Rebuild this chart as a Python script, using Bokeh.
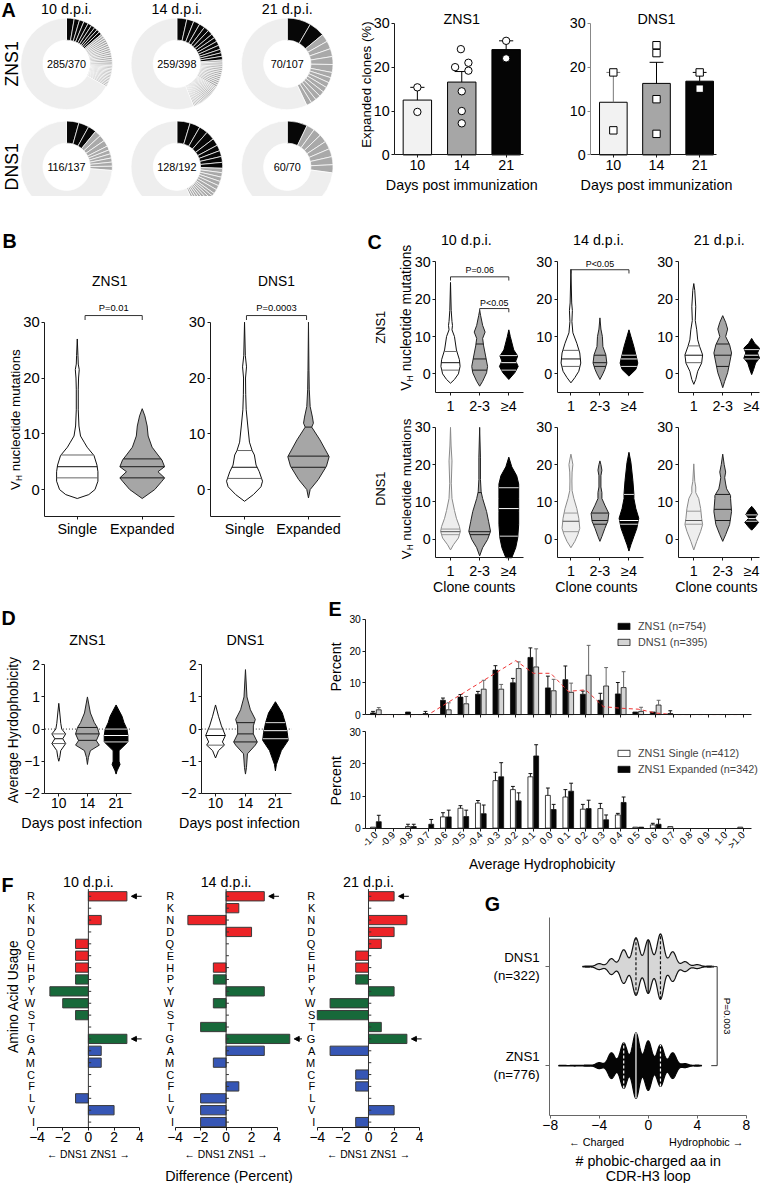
import math
import numpy as np
from bokeh.plotting import figure
from bokeh.models import Range1d, Label, Arrow, NormalHead, FixedTicker, Legend, LegendItem, LinearAxis
from bokeh.layouts import row, column
from bokeh.embed import file_html
from bokeh.resources import INLINE

FONT = "Liberation Sans"

# ============================ DATA ============================
# ---- A: clone composition (cells per clone): black >=4, grey 2-3, light = singletons
dpi_titles = ["10 d.p.i.", "14 d.p.i.", "21 d.p.i."]
donut_groups = ["ZNS1", "DNS1"]
zns1_ratio = ["285/370", "259/398", "70/107"]
dns1_ratio = ["116/137", "128/192", "60/70"]
zns1_10_big = [10, 7, 6, 6, 5, 5, 4, 4, 4]
zns1_10_mid = [3, 3, 3, 3, 3, 3, 3, 3, 3, 3, 3, 3, 3, 3, 2, 2, 2, 2, 2, 2, 2, 2, 2, 2, 2, 2, 2, 2, 2]
zns1_10_single = 247
zns1_14_big = [14, 10, 9, 8, 7, 7, 6, 6, 6, 6, 5, 5, 5]
zns1_14_mid = [3, 3, 3, 3, 3, 3, 3, 3, 3, 3, 3, 3, 3, 2, 2, 2, 2, 2, 2, 2, 2, 2, 2, 2, 2, 2, 2, 2, 2, 2, 2, 2, 2, 2]
zns1_14_single = 223
zns1_21_big = [9, 6]
zns1_21_mid = [3, 3, 3, 3, 3, 2, 2, 2, 2, 2, 2, 2, 2]
zns1_21_single = 61
dns1_10_big = [6, 5, 4]
dns1_10_mid = [3, 3, 3, 2, 2, 2, 2, 2, 2]
dns1_10_single = 101
dns1_14_big = [9, 7, 6, 6, 5, 4, 4, 4, 4]
dns1_14_mid = [3, 3, 3, 3, 3, 3, 2, 2, 2, 2, 2, 2, 2, 2]
dns1_14_single = 109
dns1_21_big = [5]
dns1_21_mid = [2, 2, 2, 2, 2, 2, 2]
dns1_21_single = 51

# ---- A: expanded clones (%) per mouse
days_imm = ["10", "14", "21"]
zns1_exp_mean = [12.5, 16.6, 24.0]
zns1_exp_sem_top = [15.4, 19.0, 26.0]
zns1_mice = [[9.8, 15.4], [24.1, 21.0, 20.0, 19.2, 14.5, 10.0, 7.2], [26.0, 22.0]]
dns1_exp_mean = [12.0, 16.3, 16.8]
dns1_exp_sem_top = [18.8, 21.1, 18.8]
dns1_mice = [[18.8, 5.6], [25.0, 23.2, 12.7, 4.8], [18.8, 15.1]]

# ---- B: VH mutations violins, (value, density) profiles + quartiles
b_cats = ["Single", "Expanded"]
b_zns1_single = [(-1.6, 0), (-0.9, 11.7), (0, 18), (1.5, 21), (3.2, 21), (4.4, 20), (6.1, 17), (7.6, 10), (8.5, 7),
                 (9.6, 3.3), (11.4, 1.7), (14.3, 1), (18, 1), (20, 1.3), (21.5, 2), (22.5, 1), (24, 0.7), (27, 0)]
b_zns1_single_q = [2.1, 4.1, 6.2]
b_zns1_expanded = [(-1.6, 0), (0, 12.7), (1.5, 20), (2.1, 22.7), (3.2, 16), (4.1, 22.7), (5.3, 20), (6.2, 16),
                   (7.6, 10), (9.6, 6), (11.4, 5), (13.2, 2.7), (14.5, 0)]
b_zns1_expanded_q = [2.1, 4.1, 5.5]
b_dns1_single = [(-2.1, 0), (-0.9, 9), (0.5, 16.7), (1.5, 18.3), (3.2, 15), (4.4, 11.7), (6.2, 10), (7, 7.7),
                 (8.5, 5), (11.4, 3.3), (14.3, 1.7), (17, 1.2), (20, 1), (22, 2), (24, 0.8), (30, 0)]
b_dns1_single_q = [2.0, 4.0, 7.0]
b_dns1_expanded = [(-1.5, 0), (0, 1.7), (1.8, 10), (4.2, 18.3), (5.9, 21), (8.9, 11.7), (11.2, 3.3), (11.9, 5),
                   (13, 4), (14.9, 1.7), (18, 0.8), (21.4, 0.5), (30, 0)]
b_dns1_expanded_q = [4.0, 6.0, 11.2]

# ---- C: VH mutations by clone count
c_cats = ["1", "2-3", "\u22654"]
c_zns1_10 = [([(-2.5, 0), (-1.5, 4), (0, 8), (2, 9.7), (3.8, 9), (6.4, 6), (10, 4), (11.8, 1.5), (13, 2), (14, 1.5), (17, 0.7), (24.5, 0)], [1, 3, 6]),
             ([(-3.3, 0), (-2, 3), (0.3, 7), (2, 8), (4.8, 6), (7.5, 4), (9.5, 3), (11.2, 5.5), (13, 3), (15.6, 1), (17, 0)], [1, 4, 8]),
             ([(-1.5, 0), (0.3, 6), (2, 9.5), (3.4, 7), (4.8, 9), (6.4, 5), (10, 1.5), (11.8, 0)], [1, 3, 4.9])]
c_zns1_14 = [([(-2.4, 0), (-1, 4), (0.7, 8), (2.9, 10), (5.6, 9), (8.2, 6), (11, 2), (14, 1), (17, 1.5), (19, 0.8), (28, 0)], [2, 4, 6.3]),
             ([(-1.5, 0), (0, 3), (1.2, 5), (2.9, 7), (5.1, 6), (7.3, 3), (10, 2.5), (12, 1), (15, 0)], [2, 3, 5]),
             ([(-0.6, 0), (1.2, 7), (2.9, 9), (5.1, 7), (7.3, 5), (10, 2), (11.8, 0)], [2, 4, 5])]
c_zns1_21 = [([(-2.8, 0), (-1.5, 2), (0.7, 4), (2.9, 8), (5.1, 9), (7.3, 6), (9.1, 4), (11.8, 3), (14.3, 1.5), (18, 2), (22.4, 1), (24.2, 0)], [3, 5, 7.5]),
             ([(-3.7, 0), (-2, 2), (0.3, 5), (2.9, 7), (5.6, 9), (7.8, 7), (10, 3), (12, 5), (13.8, 3), (15.6, 0)], [2, 5, 8]),
             ([(-0.2, 0), (1.2, 2), (2.9, 4), (4.2, 8), (5.6, 6), (6.9, 8), (8.2, 3), (9.5, 0)], [4, 5, 6.5])]
c_dns1_10 = [([(-2.9, 0), (-1.5, 3), (0.3, 8), (2.1, 10), (3.4, 9), (5.6, 6), (7.7, 4), (10.9, 1.5), (15, 0.8), (21, 1.5), (25, 0.6), (30, 0)], [1.2, 2.0, 2.7]),
             ([(-4.5, 0), (-2.3, 3), (-0.1, 8), (2.1, 11), (4.8, 9), (7.4, 7), (10.9, 3), (12.7, 1.5), (16, 0.8), (22, 0.8), (30, 0)], [1.2, 2.0, 12.5]),
             ([(-5, 3), (-2.3, 7), (0.3, 9), (3.9, 10), (7.4, 10), (10.9, 10), (14.8, 10), (17, 8), (19.4, 3), (22, 0)], [0.8, 8.2, 13.8])]
c_dns1_14 = [([(-2.3, 0), (-0.6, 4), (1.2, 7), (2.9, 9), (5.6, 8), (8.2, 6), (10.9, 3), (13, 1.2), (15.6, 1), (18, 1.2), (20, 2), (21.5, 1), (22.8, 0)], [2, 4.8, 7]),
             ([(-0.6, 0), (0.7, 2), (2.9, 5), (4.8, 8), (6.9, 9), (9.1, 5), (10.9, 2), (12.5, 2), (14, 1), (17, 1), (18.5, 2), (20, 1), (21, 0)], [4, 5, 7]),
             ([(-3.2, 0), (-1.5, 2), (0.7, 5), (2.9, 8), (5.6, 10), (8.2, 7), (10.9, 5), (12.2, 5), (15.7, 4), (20.6, 2), (23.3, 0)], [4, 5, 12])]
c_dns1_21 = [([(-2.9, 0), (-0.6, 3), (2.1, 7), (3.9, 9), (5.6, 8), (8.2, 7), (10.9, 5), (12.5, 2), (14, 2), (15.5, 1), (20.2, 0)], [4, 5, 7.5]),
             ([(-0.6, 0), (1.2, 3), (3.9, 7), (7.4, 9), (10.9, 8), (11.7, 8), (13.5, 4), (14.8, 3), (16.5, 2), (18, 3), (20, 1.5), (22.8, 0)], [5, 8, 12]),
             ([(2.4, 0), (3.2, 3), (4.5, 7), (5.6, 3), (6.6, 6), (7.9, 3), (8.8, 0)], [4.8, 5.5, 6.5])]

# ---- D: average hydrophobicity violins
d_days = ["10", "14", "21"]
d_zns1 = [([(-1.0, 0), (-0.88, 1), (-0.67, 2), (-0.45, 7), (-0.3, 4), (-0.15, 7), (0, 3), (0.18, 2), (0.5, 1), (0.8, 0)], [-0.45, -0.3, -0.15]),
          ([(-1.1, 0), (-0.88, 1), (-0.67, 3), (-0.5, 12), (-0.36, 9), (-0.15, 12), (0.05, 10), (0.2, 7), (0.5, 3), (1.0, 0)], [-0.35, -0.15, 0.05]),
          ([(-1.4, 0), (-1.3, 1), (-1.1, 4), (-1.0, 3), (-0.67, 3), (-0.4, 12), (-0.2, 12), (0, 11), (0.2, 8), (0.4, 6), (0.75, 0)], [-0.4, -0.2, 0.0])]
d_dns1 = [([(-0.9, 0), (-0.67, 3), (-0.5, 9), (-0.4, 7), (-0.2, 10), (0.1, 6), (0.4, 3), (0.75, 0)], [-0.5, -0.2, 0.0]),
          ([(-1.4, 0), (-1.2, 1), (-0.77, 2), (-0.5, 10), (-0.4, 12), (-0.15, 8), (0.1, 8), (0.3, 10), (0.6, 5), (1.0, 1.5), (1.85, 0)], [-0.4, -0.15, 0.2]),
          ([(-1.3, 0), (-1.1, 1), (-0.67, 6), (-0.35, 13), (-0.1, 12), (0.2, 10), (0.5, 7), (0.85, 0)], [-0.3, -0.05, 0.2])]

# ---- E: hydrophobicity distributions (percent, bar top and mean+error top)
hyd_bins = ["-1.0", "-0.9", "-0.8", "-0.7", "-0.6", "-0.5", "-0.4", "-0.3", "-0.2", "-0.1", "0.0",
            "0.1", "0.2", "0.3", "0.4", "0.5", "0.6", "0.7", "0.8", "0.9", "1.0", ">1.0"]
e_zns1 = [0.5, 0, 0.8, 0.3, 4.5, 5.5, 6.4, 14.0, 10.0, 18.0, 8.4, 11.0, 6.4, 4.5, 6.5, 0.8, 0.8, 0.3, 0, 0, 0, 0]
e_zns1_top = [1.0, 0, 0.8, 1.0, 5.2, 6.3, 7.3, 15.4, 11.4, 21.0, 12.1, 15.3, 7.4, 6.7, 10.1, 0.8, 0.8, 1.2, 0, 0, 0, 0]
e_dns1 = [1.5, 0, 0, 0, 1.5, 3.4, 8.0, 8.0, 14.5, 15.0, 7.5, 7.0, 12.4, 9.0, 8.5, 1.0, 3.0, 0, 0, 0, 0, 0]
e_dns1_top = [2.2, 0, 0, 0, 3.7, 5.7, 10.8, 9.5, 16.6, 20.7, 11.1, 9.9, 21.8, 14.8, 13.5, 2.3, 4.5, 0, 0, 0, 0, 0]
e_fit = [0, 0, 0, 0, 3.4, 6.8, 10.2, 13.6, 17.0, 13.0, 13.0, 7.3, 7.8, 2.5, 2.0, 1.7, 0.5, 0, 0, 0, 0, 0]
e_single = [0.3, 0, 0.5, 0, 3.5, 6.2, 7.8, 14.8, 12.0, 16.0, 10.2, 9.7, 5.9, 6.1, 4.1, 0.3, 1.0, 0.5, 0, 0, 0, 0.3]
e_single_top = [0.3, 0, 1.2, 0, 4.8, 7.0, 8.6, 17.4, 13.0, 17.0, 12.5, 12.0, 7.4, 7.7, 4.6, 0.3, 1.5, 0.5, 0, 0, 0, 0.3]
e_expanded = [2.0, 0, 0.5, 1.2, 3.5, 3.6, 4.5, 16.0, 8.5, 22.5, 5.8, 11.5, 6.1, 2.6, 8.0, 0.3, 1.2, 0, 0, 0, 0, 0]
e_expanded_top = [4.0, 0, 1.2, 2.7, 5.6, 5.6, 7.2, 20.4, 11.0, 26.0, 7.4, 14.0, 8.7, 4.1, 9.7, 0.3, 2.8, 0, 0, 0, 0, 0]

# ---- F: amino-acid usage difference (ZNS1 - DNS1, percent)
amino_acids = ["R", "K", "N", "D", "Q", "E", "H", "P", "Y", "W", "S", "T", "G", "A", "M", "C", "F", "L", "V", "I"]
aa_class = ["charged", "charged", "charged", "charged", "charged", "charged", "charged",
            "polar", "polar", "polar", "polar", "polar", "polar",
            "hydrophobic", "hydrophobic", "hydrophobic", "hydrophobic", "hydrophobic", "hydrophobic", "hydrophobic"]
diff_10 = [3, 0, 1, 0, -1, -1, -1, -1, -3, -2, -1, 0, 3, 1, 1, 0, 0, -1, 2, 0]
diff_14 = [3, 1, -3, 2, 0, 0, -1, -1, 3, -1, 0, -2, 5, 3, -1, 0, 1, -2, -2, -2]
diff_21 = [2, 0, 3, 2, 1, -1, -1, -1, 2, -3, -4, 1, 3, -3, 0, -1, -1, 0, 2, -1]
aa_flagged = ["R", "G"]

# ---- G: # phobic - charged aa in CDR-H3 (relative frequency per value)
g_values_dns1 = [-5, -4, -3, -2, -1, 0, 1, 2, 3, 4, 5]
g_freq_dns1 = [0.5, 3, 8, 17, 29, 27, 33, 15, 5, 2, 0.5]
g_values_zns1 = [-7, -6, -5, -4, -3, -2, -1, 0, 1, 2, 3, 4]
g_freq_zns1 = [0.3, 0.4, 0.6, 3, 13, 23, 33, 25, 21, 13, 2, 0.5]
g_quart_dns1 = [-1, 0, 1]
g_quart_zns1 = [-2, -1, 1]

# ============================ HELPERS ============================
SX, SY, FS = 0.985, 0.99, 0.985
AXC = "#1a1a1a"
VERT = math.pi / 2


def rx(v):
    return int(round(v * SX))


def ry(v):
    return int(round((v - 2) * SY))


def fpx(v):
    return "%.1fpx" % (v * FS)


class Panel:
    """A figure whose frame fills its whole box; axes are pinned inside with fixed_location."""

    def __init__(self, box, x0, xu, y0, yu):
        L, T, R, B = box
        self.box, self.x0, self.xu, self.y0, self.yu = box, x0, xu, y0, yu
        self.xr = ((L - x0) / xu, (R - x0) / xu)
        self.yr = (-(B - y0) / yu, (y0 - T) / yu)
        p = figure(width=rx(R) - rx(L), height=ry(B) - ry(T),
                   x_range=Range1d(self.xr[0], self.xr[1]), y_range=Range1d(self.yr[0], self.yr[1]),
                   min_border=0, min_border_left=0, min_border_right=0, min_border_top=0, min_border_bottom=0,
                   x_axis_location=None, y_axis_location=None,
                   output_backend="svg", toolbar_location=None, title=None)
        p.outline_line_color = None
        p.border_fill_color = "white"
        p.background_fill_color = "white"
        for gr in p.grid:
            gr.visible = False
        p.xgrid.grid_line_color = None
        p.ygrid.grid_line_color = None
        self.p = p
        self.xa = None
        self.ya = None

    def dx(self, X):
        return (X - self.x0) / self.xu

    def dy(self, Y):
        return (self.y0 - Y) / self.yu

    def axes(self, ax_X, ax_Y, x_end, y_end):
        xa = LinearAxis(fixed_location=self.dy(ax_Y))
        ya = LinearAxis(fixed_location=self.dx(ax_X))
        for ax in (xa, ya):
            ax.axis_line_color = AXC
            ax.major_tick_line_color = AXC
            ax.minor_tick_line_color = None
            ax.major_tick_in = 0
            ax.major_tick_out = 3
            ax.major_label_standoff = 2
            ax.major_label_text_font = FONT
            ax.major_label_text_color = "black"
        xa.bounds = (self.dx(ax_X), x_end)
        ya.bounds = (self.dy(ax_Y), y_end)
        self.p.add_layout(xa, "below")
        self.p.add_layout(ya, "left")
        self.xa, self.ya = xa, ya

    def text(self, s, X, Y, size, **kw):
        lab(self.p, s, self.dx(X), self.dy(Y), size, **kw)


def lab(p, s, x, y, size, align="center", baseline="middle", angle=0.0, color="black", bold=False):
    p.add_layout(Label(x=x, y=y, text=s, text_font=FONT, text_font_size=fpx(size),
                       text_align=align, text_baseline=baseline, angle=angle, text_color=color,
                       text_font_style="bold" if bold else "normal"))


def ticks(ax, vals, labels=None, size=14):
    ax.ticker = FixedTicker(ticks=list(vals))
    if labels is not None:
        ax.major_label_overrides = {v: l for v, l in zip(vals, labels)}
    ax.major_label_text_font_size = fpx(size)


def bracket(p, x0, x1, y, drop, color="#333"):
    p.line([x0, x0, x1, x1], [y - drop, y, y, y - drop], line_color=color, line_width=1)


def vh_label(P, Xc, Yc, size):
    wV = 0.667 * size
    hs = 0.62 * size
    wH = 0.722 * hs
    gap = 0.278 * size
    total = wV + wH + gap + 9.171 * size
    y0 = Yc + total / 2
    P.text("V", Xc, y0, size, align="left", angle=VERT)
    P.text("H", Xc + 0.3 * size, y0 - wV, hs, align="left", angle=VERT)
    P.text("nucleotide mutations", Xc, y0 - wV - wH - gap, size, align="left", angle=VERT)


VFILL_LINE = {"white": "#111111", "#eeeeee": "#8a8a8a", "#a6a6a6": "#222222", "black": "black"}
VFILL_Q = {"white": ["#666666", "#111111", "#666666"], "#eeeeee": ["#999999", "#555555", "#999999"],
           "#a6a6a6": ["#1a1a1a", "#1a1a1a", "#1a1a1a"], "black": ["#dddddd", "#ffffff", "#dddddd"]}


def draw_violin(p, c, prof, quart, unit, fill):
    ys = np.array([a for a, b in prof], float)
    ws = np.array([b for a, b in prof], float) / unit
    xs = np.concatenate([c + ws, (c - ws)[::-1]])
    yy = np.concatenate([ys, ys[::-1]])
    p.patch(x=list(xs), y=list(yy), fill_color=fill, line_color=VFILL_LINE[fill], line_width=1)
    x0, x1, qy, qc = [], [], [], []
    for q, col in zip(quart, VFILL_Q[fill]):
        w = float(np.interp(q, ys, ws))
        x0.append(c - w)
        x1.append(c + w)
        qy.append(q)
        qc.append(col)
    p.segment(x0=x0, y0=qy, x1=x1, y1=qy, line_color=qc, line_width=1)


def draw_err(p, xs, tops, errs, cap, color):
    x0, y0, x1, y1 = [], [], [], []
    for x, t, e in zip(xs, tops, errs):
        if e > t + 1e-9:
            x0 += [x, x - cap]
            y0 += [t, e]
            x1 += [x, x + cap]
            y1 += [e, e]
    if x0:
        p.segment(x0=x0, y0=y0, x1=x1, y1=y1, line_color=color, line_width=1)


# ============================ PANEL A ============================
don = Panel((0, 2, 340, 200), 67, 112, 170, 104)
donut_sets = [[(zns1_10_big, zns1_10_mid, zns1_10_single), (zns1_14_big, zns1_14_mid, zns1_14_single),
               (zns1_21_big, zns1_21_mid, zns1_21_single)],
              [(dns1_10_big, dns1_10_mid, dns1_10_single), (dns1_14_big, dns1_14_mid, dns1_14_single),
               (dns1_21_big, dns1_21_mid, dns1_21_single)]]
ratios = [zns1_ratio, dns1_ratio]
for r in range(2):
    for c in range(3):
        big, mid, single = donut_sets[r][c]
        sizes = list(big) + list(mid) + [single]
        cols = ["#070707"] * len(big) + ["#a9a9a9"] * len(mid) + ["#eeeeee"]
        cum = np.cumsum([0] + sizes) / float(sum(sizes)) * 2 * np.pi
        n = len(sizes)
        don.p.annular_wedge(x=[c] * n, y=[1 - r] * n, inner_radius=24 * FS, outer_radius=46.5 * FS,
                            inner_radius_units="screen", outer_radius_units="screen",
                            start_angle=list(np.pi / 2 - cum[1:]), end_angle=list(np.pi / 2 - cum[:-1]),
                            fill_color=cols, line_color="white", line_width=0.7)
        lab(don.p, ratios[r][c], c, 1 - r, 11)
for c in range(3):
    lab(don.p, dpi_titles[c], c, don.dy(11), 14.5)
for r in range(2):
    lab(don.p, donut_groups[r], don.dx(12), 1 - r, 18, angle=VERT)
don.text("A", 1, 12, 20, align="left", bold=True)


def expanded_chart(box, axX, c0, unit, means, tops, mice, jit, marker, title, errcols):
    P = Panel(box, c0, unit, 158, 133 / 30.0)
    P.axes(axX, 158, 2.38, 30)
    p = P.p
    xs = [0, 1, 2]
    p.vbar(x=xs, top=means, bottom=0, width=0.64, fill_color=["#f2f2f2", "#a6a6a6", "#050505"],
           line_color="black", line_width=1)
    for i in range(3):
        draw_err(p, [xs[i]], [means[i]], [tops[i]], 0.16, errcols[i])
    px_, py_ = [], []
    for i, pts in enumerate(mice):
        for j, v in enumerate(pts):
            px_.append(xs[i] + jit[i][j])
            py_.append(v)
    p.scatter(px_, py_, marker=marker, size=7.5 * FS, fill_color="white", line_color="black", line_width=1)
    ticks(P.ya, [0, 10, 20, 30], size=14.5)
    ticks(P.xa, xs, days_imm, size=14.5)
    lab(p, title, 1, P.dy(21), 14.5)
    lab(p, "Days post immunization", 1, P.dy(188), 14.5)
    return P


az = expanded_chart((340, 2, 560, 200), 400, 423, 45, zns1_exp_mean, zns1_exp_sem_top,
                    zns1_mice, [[0, 0], [-0.02, 0.15, -0.15, 0.15, 0, 0, 0], [0, 0]], "circle", "ZNS1",
                    ["black", "black", "black"])
az.text("Expanded clones (%)", 371, 87, 13.5, angle=VERT)
ad = expanded_chart((560, 2, 772, 200), 599, 622, 44, dns1_exp_mean, dns1_exp_sem_top,
                    dns1_mice, [[0, 0], [0, 0, 0, 0], [0, 0]], "square", "DNS1",
                    ["#777777", "black", "black"])
ad.ya.axis_line_color = "#888888"
ad.ya.major_tick_line_color = "#888888"


# ============================ PANEL B ============================
def b_panel(box, axX, c0, unit, viols, title, ptxt, px0, px1):
    P = Panel(box, c0, unit, 496, 169 / 30.0)
    P.axes(axX, 523, 1.5, 30)
    p = P.p
    fills = ["white", "#a6a6a6"]
    for i, (prof, q) in enumerate(viols):
        draw_violin(p, i, prof, q, unit, fills[i])
    ticks(P.ya, [0, 10, 20, 30], size=15)
    ticks(P.xa, [0, 1], b_cats, size=14.5)
    lab(p, title, 0.5, P.dy(286), 14)
    bracket(p, px0, px1, 31.2, 0.8)
    lab(p, ptxt, (px0 + px1) / 2, 32.6, 9.5)
    return P


b1 = b_panel((0, 200, 190, 605), 45, 78, 66,
             [(b_zns1_single, b_zns1_single_q), (b_zns1_expanded, b_zns1_expanded_q)], "ZNS1", "P=0.01", 0.12, 1.0)
b2 = b_panel((190, 200, 372, 605), 213, 248, 65,
             [(b_dns1_single, b_dns1_single_q), (b_dns1_expanded, b_dns1_expanded_q)], "DNS1", "P=0.0003", 0.03, 0.97)
b1.text("B", 2, 245, 20, align="left", bold=True)
vh_label(b1, 15, 425, 13.5)

# ============================ PANEL C ============================
C_COLS = [(372, 543, 442, 457, 481), (543, 666, 565, 579, 605), (666, 772, 688, 704, 727)]
C_ROWS = [(200, 420, 398, 379), (420, 605, 565, 546)]
c_data = [[c_zns1_10, c_zns1_14, c_zns1_21], [c_dns1_10, c_dns1_14, c_dns1_21]]
c_fills = [["white", "#a6a6a6", "black"], ["#eeeeee", "#a6a6a6", "black"]]
CU = 29.5
cp = [[None] * 3 for _ in range(2)]
for r, (bT, bB, axY, y0) in enumerate(C_ROWS):
    for c, (bL, bR, axX, c0, labX) in enumerate(C_COLS):
        P = Panel((bL, bT, bR, bB), c0, CU, y0, 113 / 30.0)
        P.axes(axX, axY, min(2.5, P.dx(bR) - 0.02), 30)
        p = P.p
        for i, (prof, q) in enumerate(c_data[r][c]):
            draw_violin(p, i, prof, q, CU, c_fills[r][i])
        ticks(P.ya, [0, 10, 20, 30], size=14.5)
        ticks(P.xa, [0, 1, 2], c_cats, size=14.5)
        if r == 1:
            P.text("Clone counts", labX, 594, 14.3)
        cp[r][c] = P
for c, X in enumerate([473, 607, 730]):
    cp[0][c].text(dpi_titles[c], X, 244, 14.5)
cp[0][0].text("C", 373, 246, 20, align="left", bold=True)
cp[0][0].text("ZNS1", 386, 332, 13, angle=VERT)
cp[1][0].text("DNS1", 386, 495, 13, angle=VERT)
vh_label(cp[0][0], 412, 322, 14)
vh_label(cp[1][0], 412, 495, 13.5)
bracket(cp[0][0].p, 0, 2, 26.0, 1.0)
lab(cp[0][0].p, "P=0.06", 1, 27.7, 9)
bracket(cp[0][0].p, 1, 2, 17.5, 1.0)
lab(cp[0][0].p, "P<0.05", 1.5, 19.1, 9)
bracket(cp[0][1].p, 0, 2, 27.9, 1.0)
lab(cp[0][1].p, "P<0.05", 1, 29.5, 9)


# ============================ PANEL D ============================
def d_panel(box, axX, c0, unit, viols, title):
    P = Panel(box, c0, unit, 738, 32.5)
    P.axes(axX, 803, 2.55, 2)
    p = P.p
    fills = ["white", "#a6a6a6", "black"]
    p.line([P.dx(axX), 2.55], [0, 0], line_color="#333333", line_dash="1 2", line_width=1)
    for i, (prof, q) in enumerate(viols):
        draw_violin(p, i, prof, q, unit, fills[i])
    ticks(P.ya, [-2, -1, 0, 1, 2], size=14)
    ticks(P.xa, [0, 1, 2], d_days, size=14)
    lab(p, "Days post infection", 0.8, P.dy(833), 14.5)
    lab(p, title, 1, P.dy(648), 14.5)
    return P


d1 = d_panel((0, 605, 165, 885), 45, 59, 29, d_zns1, "ZNS1")
d2 = d_panel((165, 605, 330, 885), 204, 218, 30.5, d_dns1, "DNS1")
d1.text("Average Hyrdophobicity", 13, 739, 14, angle=VERT)
d1.text("D", 1, 626, 20, align="left", bold=True)

# ============================ PANEL E ============================
eu = Panel((330, 605, 772, 732), 381.2, 17.77, 723, 3.2)
el = Panel((330, 732, 772, 885), 381.2, 17.77, 838, 3.25)
eu.axes(371, 723, 21.45, 30)
el.axes(371, 838, 21.45, 30)
kk = list(range(len(hyd_bins)))


def e_bars(P, a, a_top, b, b_top, ca, cb, la, lb, ea, eb, leg_top_Y, percent_Y):
    p = P.p
    xa = [k - 0.165 for k in kk if a[k] > 0]
    ya = [a[k] for k in kk if a[k] > 0]
    xb = [k + 0.165 for k in kk if b[k] > 0]
    yb = [b[k] for k in kk if b[k] > 0]
    ra = p.vbar(x=xa, top=ya, bottom=0, width=0.28, fill_color=ca, line_color="#111111", line_width=0.8)
    rb = p.vbar(x=xb, top=yb, bottom=0, width=0.28, fill_color=cb, line_color="#111111", line_width=0.8)
    draw_err(p, [k - 0.165 for k in kk], a, a_top, 0.11, ea)
    draw_err(p, [k + 0.165 for k in kk], b, b_top, 0.11, eb)
    L, T, R, B = P.box
    leg = Legend(items=[LegendItem(label=la, renderers=[ra]), LegendItem(label=lb, renderers=[rb])],
                 location=(rx(625) - rx(L), ry(B) - ry(leg_top_Y + 32)), orientation="vertical",
                 glyph_width=15, glyph_height=8, label_height=16, label_standoff=7, spacing=0, padding=0,
                 margin=0, label_text_font=FONT, label_text_font_size=fpx(11), border_line_color=None,
                 background_fill_alpha=0)
    p.add_layout(leg)
    ticks(P.ya, [0, 10, 20, 30], size=10.5)
    P.text("Percent", 341, percent_Y, 14.5, angle=VERT)


e_bars(eu, e_zns1, e_zns1_top, e_dns1, e_dns1_top, "#050505", "#d4d4d4", "ZNS1 (n=754)", "DNS1 (n=395)",
       "#111111", "#666666", 627, 675)
eu.p.line(kk, e_fit, line_color="#ee3333", line_dash="4 3", line_width=1)
ticks(eu.xa, kk, [""] * len(kk), size=1)
eu.text("E", 333, 617, 20, align="left", bold=True)

e_bars(el, e_single, e_single_top, e_expanded, e_expanded_top, "white", "#050505",
       "ZNS1 Single (n=412)", "ZNS1 Expanded (n=342)", "#111111", "#111111", 755, 790)
ticks(el.xa, kk, hyd_bins, size=10)
el.xa.major_label_orientation = math.pi / 4
el.text("Average Hydrophobicity", 550, 875, 14)

# ============================ PANEL F ============================
AA_COL = {"charged": "#ec2327", "polar": "#17693a", "hydrophobic": "#3656b5"}
aa_idx = [len(amino_acids) - 1 - i for i in range(len(amino_acids))]


def f_panel(box, axX, zero_x, diffs, title):
    P = Panel(box, zero_x, 13.0, 1135, 12.0)
    P.axes(axX, 1140, 4, 19.6)
    p = P.p
    ys = [aa_idx[i] for i in range(20) if diffs[i] != 0]
    rs = [diffs[i] for i in range(20) if diffs[i] != 0]
    cs = [AA_COL[aa_class[i]] for i in range(20) if diffs[i] != 0]
    p.hbar(y=ys, left=0, right=rs, height=0.78, fill_color=cs, line_color="#3a3a3a", line_width=1)
    p.line([0, 0], [P.dy(1140), 19.6], line_color="#333333", line_width=1)
    p.segment(x0=[0] * 20, y0=aa_idx, x1=[0.22] * 20, y1=aa_idx, line_color="#333333", line_width=1)
    for a in aa_flagged:
        i = amino_acids.index(a)
        v = max(diffs[i], 0)
        p.add_layout(Arrow(end=NormalHead(size=5, fill_color="black", line_color="black"),
                           x_start=v + 1.15, y_start=aa_idx[i], x_end=v + 0.35, y_end=aa_idx[i],
                           line_color="black", line_width=1))
    ticks(P.ya, aa_idx, amino_acids, size=11.2)
    P.ya.axis_line_color = None
    P.ya.major_tick_line_color = None
    P.ya.major_tick_out = 0
    P.ya.major_label_standoff = 2
    P.xa.bounds = (-4, 4)
    ticks(P.xa, [-4, -2, 0, 2, 4], size=14)
    lab(p, title, 0, P.dy(893), 14.5)
    lab(p, "\u2190 DNS1 ZNS1 \u2192", 0, P.dy(1168), 10.5)
    return P


f1 = f_panel((0, 885, 160, 1197), 37, 89, diff_10, dpi_titles[0])
f2 = f_panel((160, 885, 307, 1197), 178, 229, diff_14, dpi_titles[1])
f3 = f_panel((307, 885, 440, 1197), 322, 374, diff_21, dpi_titles[2])
f1.text("Amino Acid Usage", 13, 1008, 14, angle=VERT)
f2.text("Difference (Percent)", 232, 1189, 14.5)
f1.text("F", 1, 896, 20, align="left", bold=True)

# ============================ PANEL G ============================
g = Panel((440, 885, 772, 1197), 658, 12.44, 1128, 100.0)
g.axes(558, 1128, 8, 2)
gp = g.p


def h_violin(p, yc, vals, freq, quart, fill, line, qcol):
    grid = np.arange(min(vals) - 0.35, max(vals) + 0.35 + 1e-9, 0.02)
    dens = np.zeros_like(grid)
    for v, f in zip(vals, freq):
        dens += f * np.exp(-0.5 * ((grid - v) / 0.28) ** 2)
    half = dens / dens.max() * 0.33
    keep = half > 0.0015
    gx, hh = grid[keep], half[keep]
    xs = np.concatenate([gx, gx[::-1]])
    ys = np.concatenate([yc + hh, (yc - hh)[::-1]])
    p.patch(x=list(xs), y=list(ys), fill_color=fill, line_color=line, line_width=1.2)
    for q, dash in zip(quart, ["3 2", "solid", "3 2"]):
        h = float(np.interp(q, gx, hh))
        p.line([q, q], [yc - h, yc + h], line_color=qcol, line_width=1.2, line_dash=dash)


h_violin(gp, 1.5, g_values_dns1, g_freq_dns1, g_quart_dns1, "#d6d6d6", "#111111", "#111111")
h_violin(gp, 0.5, g_values_zns1, g_freq_zns1, g_quart_zns1, "#050505", "#050505", "#ffffff")
ticks(g.xa, [-8, -4, 0, 4, 8], size=14)
ticks(g.ya, [0.5, 1.5], ["ZNS1\n(n=776)", "DNS1\n(n=322)"], size=13.5)
for ax in (g.xa, g.ya):
    ax.axis_line_color = "#666666"
    ax.major_tick_line_color = "#666666"
g.ya.major_tick_out = 4
g.ya.major_label_standoff = 6
bx = g.dx(728)
gp.line([g.dx(722), bx, bx, g.dx(722)], [0.5, 0.5, 1.5, 1.5], line_color="#333333", line_width=1)
g.text("P=0.003", 739, 1028, 10, angle=-VERT)
g.text("\u2190  Charged", 607, 1155, 11)
g.text("Hydrophobic \u2192", 717, 1155, 11)
g.text("# phobic-charged aa in", 658, 1174, 14.5)
g.text("CDR-H3 loop", 658, 1189, 14.5)
g.text("G", 492, 915, 20, align="left", bold=True)

# ============================ LAYOUT ============================
band1 = row(don.p, az.p, ad.p)
band2 = row(b1.p, b2.p, column(row(cp[0][0].p, cp[0][1].p, cp[0][2].p), row(cp[1][0].p, cp[1][1].p, cp[1][2].p)))
band3 = row(d1.p, d2.p, column(eu.p, el.p))
band4 = row(f1.p, f2.p, f3.p, g.p)
layout = column(band1, band2, band3, band4)

open("out.html", "w").write(file_html(layout, INLINE, "Figure"))
